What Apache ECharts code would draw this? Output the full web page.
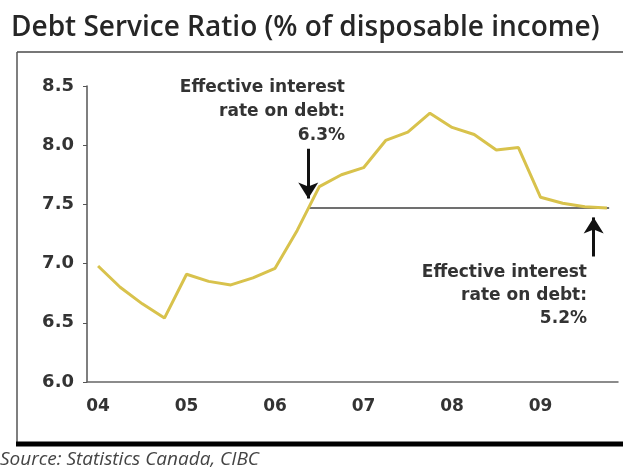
<!DOCTYPE html>
<html lang="en">
<head>
  <meta charset="UTF-8">
  <title>Debt Service Ratio</title>
  <script src="https://cdn.jsdelivr.net/npm/echarts@6/dist/echarts.min.js"></script>
  <style>
    html, body { margin: 0; padding: 0; background: #fff; }
    #chart { width: 623px; height: 473px; }
  </style>
</head>
<body>
  <div id="chart"></div>
  <script>
    // quarterly data, 2004Q1 .. 2009Q4
    var quarters = [
      '2004Q1','2004Q2','2004Q3','2004Q4',
      '2005Q1','2005Q2','2005Q3','2005Q4',
      '2006Q1','2006Q2','2006Q3','2006Q4',
      '2007Q1','2007Q2','2007Q3','2007Q4',
      '2008Q1','2008Q2','2008Q3','2008Q4',
      '2009Q1','2009Q2','2009Q3','2009Q4'
    ];
    var debtService = [
      6.98, 6.80, 6.66, 6.54,
      6.91, 6.85, 6.82, 6.88,
      6.96, 7.28, 7.65, 7.75,
      7.81, 8.04, 8.11, 8.27,
      8.15, 8.09, 7.96, 7.98,
      7.56, 7.51, 7.48, 7.47
    ];
    // reference level (quarter position, ratio)
    var flatLine = [[10, 7.47], [23.6, 7.47]];
    // arrows: [from, to] in (quarter position, ratio)
    var arrows = [
      [[10, 7.97], [10, 7.55]],
      [[22.9, 7.06], [22.9, 7.39]]
    ];
    var note1 = 'Effective interest\nrate on debt:\n6.3%';
    var note2 = 'Effective interest\nrate on debt:\n5.2%';

    var chart = echarts.init(document.getElementById('chart'));
    var txt = '#333';

    chart.setOption({
      animation: false,
      backgroundColor: '#fff',
      grid: { left: 87, right: 5, top: 86, bottom: 91 },
      xAxis: [
        {
          type: 'category',
          data: quarters,
          boundaryGap: true,
          axisLine: { lineStyle: { color: '#666', width: 1.5 } },
          axisTick: { interval: 3, length: 5, lineStyle: { color: '#666', width: 1.5 } },
          axisLabel: {
            interval: 3,
            margin: 16,
            color: txt,
            fontFamily: 'DejaVu Sans',
            fontWeight: 'bold',
            fontSize: 17,
            formatter: function (v) { return v.slice(2, 4); }
          },
          splitLine: { show: false }
        },
        { type: 'value', min: 0, max: 24, show: false }
      ],
      yAxis: {
        type: 'value',
        min: 6, max: 8.5, interval: 0.5,
        axisLine: { show: true, lineStyle: { color: '#555', width: 1.5 } },
        axisTick: { show: true, length: 4, lineStyle: { color: '#555' } },
        splitLine: { show: false },
        axisLabel: {
          margin: 13,
          color: txt,
          fontFamily: 'DejaVu Sans',
          fontWeight: 'bold',
          fontSize: 18,
          formatter: function (v) { return v.toFixed(1); }
        }
      },
      series: [
        {
          type: 'line',
          xAxisIndex: 1,
          data: flatLine,
          symbol: 'none',
          silent: true,
          lineStyle: { color: '#707070', width: 2 },
          markLine: {
            silent: true,
            symbol: ['none', 'arrow'],
            symbolSize: [15, 16],
            label: { show: false },
            lineStyle: { color: '#111', width: 3, type: 'solid' },
            data: arrows.map(function (a) {
              return [{ coord: a[0] }, { coord: a[1] }];
            })
          }
        },
        {
          type: 'line',
          data: debtService,
          symbol: 'none',
          z: 3,
          lineStyle: { color: '#d8c24c', width: 3 }
        }
      ],
      graphic: [
        {
          type: 'text', left: 11, top: 14,
          style: {
            text: 'Debt Service Ratio (% of disposable income)',
            font: '600 28px "Open Sans"', fill: '#262626'
          }
        },
        { type: 'line', shape: { x1: 17, y1: 52, x2: 623, y2: 52 }, style: { stroke: '#777', lineWidth: 2 } },
        { type: 'line', shape: { x1: 17, y1: 52, x2: 17, y2: 443 }, style: { stroke: '#555', lineWidth: 1.5 } },
        { type: 'line', shape: { x1: 16, y1: 444, x2: 623, y2: 444 }, style: { stroke: '#000', lineWidth: 5 } },
        {
          type: 'text', left: 0, top: 450,
          style: {
            text: 'Source: Statistics Canada, CIBC',
            font: 'italic 19px "Open Sans"', fill: '#444'
          }
        },
        {
          type: 'text', x: 345, y: 76,
          style: {
            text: note1, align: 'right', lineHeight: 24,
            font: 'bold 17px "DejaVu Sans"', fill: txt
          }
        },
        {
          type: 'text', x: 587, y: 261,
          style: {
            text: note2, align: 'right', lineHeight: 23,
            font: 'bold 17px "DejaVu Sans"', fill: txt
          }
        }
      ]
    });
  </script>
</body>
</html>
